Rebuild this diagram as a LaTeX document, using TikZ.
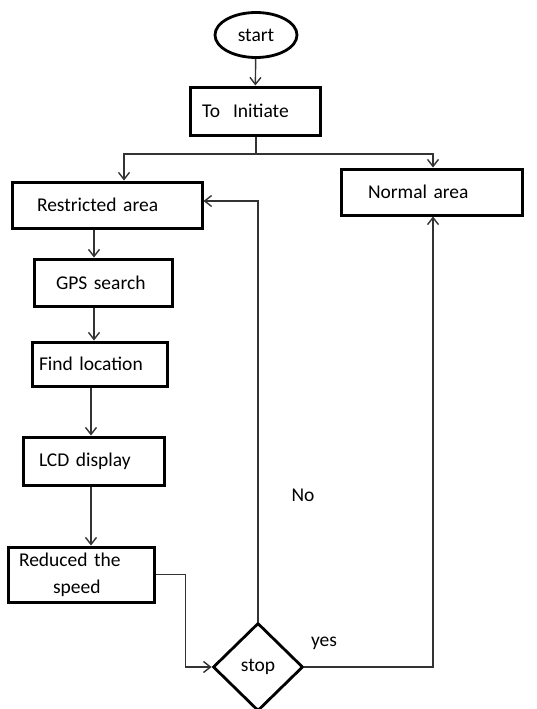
\documentclass[tikz,border=0pt]{standalone}
\usepackage{fontspec}
\setmainfont{Carlito}
\usetikzlibrary{arrows.meta,shapes.geometric}
\tikzset{
  block/.style={draw, line width=3pt, align=left, inner ysep=0pt,
    font=\fontsize{19.5}{27}\selectfont},
  flow/.style={draw=black!80, line width=1.4pt,
    -{Straight Barb[length=7pt,width=11pt]}},
  tag/.style={font=\fontsize{19.5}{23}\selectfont}
}
\begin{document}
\begin{tikzpicture}[x=1pt,y=-1pt]
  \useasboundingbox (0,0) rectangle (536,709);
  \node[draw, ellipse, line width=2.8pt, minimum width=82, minimum height=45,
    inner sep=0pt, font=\fontsize{19.5}{23}\selectfont] (start) at (256,35) {start};
  \node[block, minimum height=48, text width=106, inner xsep=12] (init) at (255,111) {To\ \ Initiate};
  \node[block, minimum height=46, text width=140, inner xsep=25] (restr) at (107,205) {Restricted area};
  \node[block, minimum height=46, text width=127, inner xsep=27] (normal) at (431.5,192) {Normal area};
  \node[block, minimum height=47, text width=94, inner xsep=22] (gps) at (103,282.5) {GPS search};
  \node[block, minimum height=44, text width=121, inner xsep=7] (find) at (99.5,364) {Find location};
  \node[block, minimum height=48, text width=109, inner xsep=16] (lcd) at (93.5,461) {LCD display};
  \node[block, minimum height=55, text width=124, inner xsep=11] (reduced) at (81,574.5) {Reduced the\\\hspace*{34pt}speed};
  \node[draw, diamond, aspect=1, line width=2.8pt, minimum width=90, minimum height=88,
    inner sep=0pt, font=\fontsize{19.5}{23}\selectfont] (stop) at (258,667) {stop};
  \node[tag] (no) at (303,495) {No};
  \node[tag] (yes) at (324,643) {yes};
  \coordinate (split) at (256,154);
  \begin{scope}[flow]
    \draw (start) -- (init);
    \draw[-] (init.south -| split) -- (split);
    \draw (split) -| ([xshift=17pt]restr.north);
    \draw (split) -| ([xshift=1.5pt]normal.north);
    \draw ([xshift=-13pt]restr.south) -- ([xshift=-9pt]gps.north);
    \draw ([xshift=-9pt]gps.south) -- ([xshift=-5.5pt]find.north);
    \draw ([xshift=-8.5pt]find.south) -- ([xshift=-2.5pt]lcd.north);
    \draw ([xshift=-2.5pt]lcd.south) -- ([xshift=10pt]reduced.north);
    \draw (reduced.east) -- ++(30,0) |- (stop.west);
    \draw (stop.north) |- ([yshift=4pt]restr.east);
    \draw (stop.east) -| ([xshift=1.5pt]normal.south);
  \end{scope}
\end{tikzpicture}
\end{document}
